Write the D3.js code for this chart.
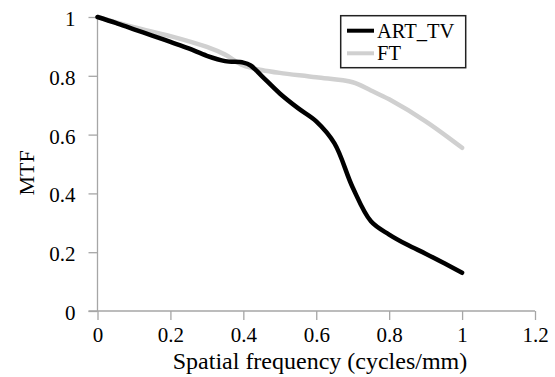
<!DOCTYPE html>
<html>
<head>
<meta charset="utf-8">
<script src="https://cdn.jsdelivr.net/npm/d3@7"></script>
<style>
  body { margin: 0; background: #fff; }
  text { font-family: "Liberation Serif", "DejaVu Serif", serif; }
</style>
</head>
<body>
<div id="chart"></div>
<script>
// spatial frequency (cycles/mm)
var freq = [0, 0.05, 0.1, 0.15, 0.2, 0.25, 0.3, 0.35, 0.4, 0.42, 0.45, 0.5, 0.55, 0.6, 0.65, 0.7, 0.75, 0.8, 0.85, 0.9, 0.95, 1.0]
var artTV = [1.0, 0.98, 0.958, 0.937, 0.915, 0.893, 0.868, 0.85, 0.845, 0.835, 0.8, 0.74, 0.69, 0.645, 0.57, 0.42, 0.305, 0.26, 0.225, 0.195, 0.163, 0.13]
var freqFT = [0, 0.1, 0.2, 0.3, 0.35, 0.4, 0.45, 0.5, 0.6, 0.7, 0.75, 0.8, 0.9, 1.0]
var ft = [1.0, 0.965, 0.935, 0.898, 0.872, 0.835, 0.82, 0.81, 0.795, 0.778, 0.75, 0.72, 0.645, 0.555]
var xTicks = [0, 0.2, 0.4, 0.6, 0.8, 1, 1.2]
var yTicks = [0, 0.2, 0.4, 0.6, 0.8, 1]

var width = 555
var height = 377
var margin = { top: 17, right: 20, bottom: 66, left: 97.5 }

var svg = d3.select("#chart")
    .append("svg")
    .attr("width", width)
    .attr("height", height)

var x = d3.scaleLinear().domain([0, 1.2]).range([margin.left, width - margin.right])
var y = d3.scaleLinear().domain([0, 1]).range([height - margin.bottom, margin.top])

var axisColor = "#a6a6a6"

// y axis
var yAxis = svg.append("g")
    .attr("transform", "translate(" + x(0) + ",0)")
    .call(d3.axisLeft(y).tickValues(yTicks).tickSize(9).tickPadding(13).tickFormat(d3.format("")))
yAxis.select(".domain").attr("stroke", axisColor).attr("stroke-width", 1.3).attr("d", "M0," + y(0) + "V" + y(1))
yAxis.selectAll(".tick line").attr("stroke", axisColor).attr("stroke-width", 1.3)
yAxis.selectAll(".tick text").style("font-size", "21px").attr("fill", "#000").attr("dy", "0.4em")

// x axis
var xAxis = svg.append("g")
    .attr("transform", "translate(0," + y(0) + ")")
    .call(d3.axisBottom(x).tickValues(xTicks).tickSize(9).tickPadding(7).tickFormat(d3.format("")))
xAxis.select(".domain").attr("stroke", axisColor).attr("stroke-width", 1.3).attr("d", "M" + (x(0) - 9) + ",0H" + x(1.2))
xAxis.selectAll(".tick line").attr("stroke", axisColor).attr("stroke-width", 1.3)
xAxis.selectAll(".tick text").style("font-size", "21px").attr("fill", "#000")

// axis titles
svg.append("text")
    .attr("x", 320)
    .attr("y", 369)
    .attr("text-anchor", "middle")
    .style("font-size", "24px")
    .text("Spatial frequency (cycles/mm)")

svg.append("text")
    .attr("transform", "translate(34," + y(0.47) + ") rotate(-90)")
    .attr("text-anchor", "middle")
    .style("font-size", "22px")
    .text("MTF")

// lines
var line = d3.line()
    .x(function (d) { return x(d[0]) })
    .y(function (d) { return y(d[1]) })
    .curve(d3.curveCatmullRom.alpha(0.5))

svg.append("path")
    .datum(d3.zip(freqFT, ft))
    .attr("d", line)
    .style("fill", "none")
    .style("stroke", "#d0d0d0")
    .style("stroke-width", "4.5px")
    .style("stroke-linecap", "round")

svg.append("path")
    .datum(d3.zip(freq, artTV))
    .attr("d", line)
    .style("fill", "none")
    .style("stroke", "#000")
    .style("stroke-width", "4.5px")
    .style("stroke-linecap", "round")

// legend
var legend = svg.append("g")
legend.append("rect")
    .attr("x", 340.7).attr("y", 15.7)
    .attr("width", 125).attr("height", 52)
    .style("fill", "#fff")
    .style("stroke", "#222")
    .style("stroke-width", 1.5)
var items = [["ART_TV", "#000", 30.7], ["FT", "#d0d0d0", 53.3]]
items.forEach(function (it) {
    legend.append("line")
        .attr("x1", 347).attr("x2", 374)
        .attr("y1", it[2]).attr("y2", it[2])
        .style("stroke", it[1])
        .style("stroke-width", 4)
    legend.append("text")
        .attr("x", 377)
        .attr("y", it[2] + 7)
        .style("font-size", "20.5px")
        .text(it[0])
})
</script>
</body>
</html>
